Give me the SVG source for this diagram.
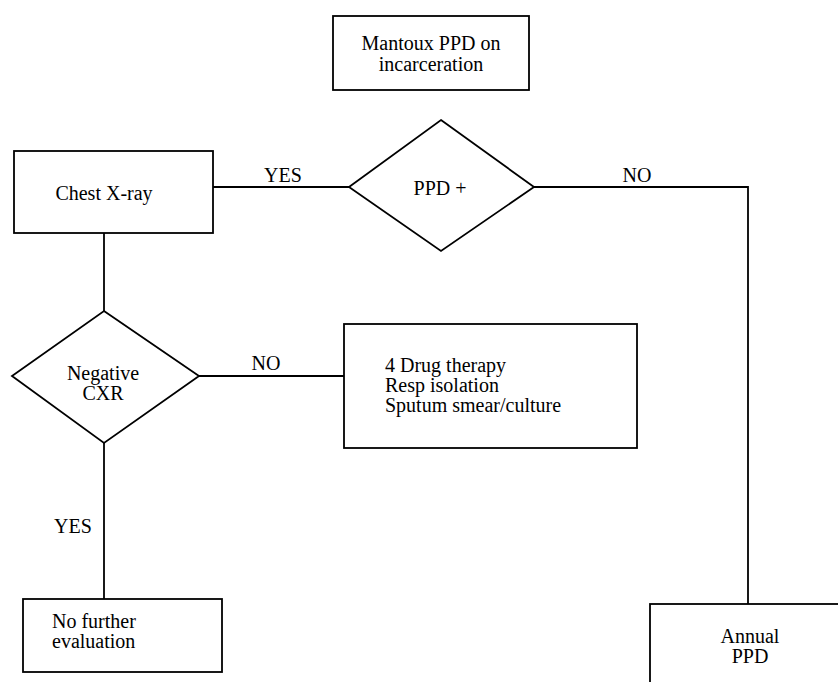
<svg xmlns="http://www.w3.org/2000/svg" width="838" height="682" viewBox="0 0 838 682">
<style>
.s{fill:#fff;stroke:#000;stroke-width:1.8}
.c{fill:none;stroke:#000;stroke-width:1.8}
.m{text-anchor:middle}
</style>
<rect width="838" height="682" fill="#fff"/>
<g font-family="'Liberation Serif', 'DejaVu Serif', serif" font-size="20" fill="#000">
<g id="connectors">
<line class="c" x1="213" y1="187" x2="349" y2="187"/>
<polyline class="c" points="534,187 748,187 748,604"/>
<line class="c" x1="104" y1="233" x2="104" y2="311"/>
<line class="c" x1="199" y1="376" x2="344" y2="376"/>
<line class="c" x1="104" y1="443" x2="104" y2="599"/>
<text x="283" y="182" class="m">YES</text>
<text x="637" y="182" class="m">NO</text>
<text x="266" y="370" class="m">NO</text>
<text x="73" y="533" class="m">YES</text>
</g>
<g id="mantoux">
<rect class="s" x="333" y="16" width="196" height="74"/>
<text x="431" y="50" class="m">Mantoux PPD on</text>
<text x="431" y="71" class="m">incarceration</text>
</g>
<g id="ppd">
<polygon class="s" points="441,120 534,187 441,251 349,187"/>
<text x="440" y="195" class="m">PPD +</text>
</g>
<g id="chest">
<rect class="s" x="14" y="151" width="199" height="82"/>
<text x="104" y="200" class="m">Chest X-ray</text>
</g>
<g id="negcxr">
<polygon class="s" points="104,311 199,376 104,443 12,376"/>
<text x="103" y="380" class="m">Negative</text>
<text x="103" y="400" class="m">CXR</text>
</g>
<g id="therapy">
<rect class="s" x="344" y="324" width="293" height="124"/>
<text x="385" y="372">4 Drug therapy</text>
<text x="385" y="392">Resp isolation</text>
<text x="385" y="412">Sputum smear/culture</text>
</g>
<g id="nofurther">
<rect class="s" x="23" y="599" width="199" height="73"/>
<text x="52" y="628">No further</text>
<text x="52" y="648">evaluation</text>
</g>
<g id="annual">
<rect class="s" x="650" y="604" width="200" height="100"/>
<text x="750" y="643" class="m">Annual</text>
<text x="750" y="663" class="m">PPD</text>
</g>
</g>
</svg>
